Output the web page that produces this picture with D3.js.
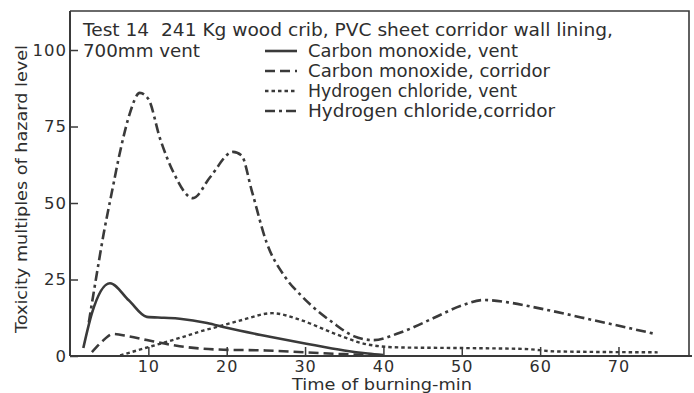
<!DOCTYPE html>
<html>
<head>
<meta charset="utf-8">
<script src="https://cdn.jsdelivr.net/npm/d3@7"></script>
<style>
  html, body { margin: 0; padding: 0; background: #fff; }
  svg { display: block; }
  text { font-family: "DejaVu Sans", sans-serif; fill: #2e2e2e; white-space: pre; }
</style>
</head>
<body>
<svg id="chart" width="694" height="393"></svg>
<script>
// Test 14 toxicity readings: [time of burning (min), multiples of hazard level]
const coVent = [[1.7,2.6],[2.8,14],[5.1,23.8],[7.5,18.2],[9.8,12.8],[12,12.5],[14,12.2],[17.5,10.8],[20,9.2],[25.5,6.3],[30,4.1],[35,1.8],[38,0.8],[40,0.3]];
const coCorridor = [[2.8,1.3],[4,4.5],[5.5,7.2],[7.5,6.4],[9.8,5.2],[14,3.2],[19,2.1],[25,1.8],[30,1.2],[35,0.6],[40,0.2]];
const hclVent = [[6.4,0.2],[10,2.9],[14,5.9],[17,8.3],[19.2,9.8],[22,11.8],[25.8,14],[29.4,11.8],[33.6,7.5],[37.9,3.8],[42,2.8],[50,2.6],[58,2.3],[62,1.5],[75,1.2]];
const hclCorridor = [[2.4,11],[3.3,25],[4.3,40],[5.3,53],[6.5,68],[7.6,79],[8.9,86],[10,84],[11.5,71],[13.2,60],[15.7,51.6],[17.9,58.5],[20.8,66.7],[21.9,65.5],[23.2,54],[25.1,37],[27.4,26],[29.6,19.5],[33.6,10.8],[36.2,6.5],[38.7,5.2],[42,7.5],[46.4,12.4],[50,16.5],[52.8,18.3],[56,17.5],[59.1,16],[67.7,11.2],[74.7,7.2]];

const xTicks = [10, 20, 30, 40, 50, 60, 70];
const yTicks = [0, 25, 50, 75, 100];

const titleLines = ["Test 14  241 Kg wood crib, PVC sheet corridor wall lining,", "700mm vent"];
const seriesNames = ["Carbon monoxide, vent", "Carbon monoxide, corridor", "Hydrogen chloride, vent", "Hydrogen chloride,corridor"];
const xTitle = "Time of burning-min";
const yTitle = "Toxicity multiples of hazard level";

// layout
const W = 694, H = 393;
const m = { left: 70, top: 11, right: 5, bottom: 37 };
const pw = W - m.left - m.right, ph = H - m.top - m.bottom;
const ink = "#3a3a3a";

const svg = d3.select("#chart");
const g = svg.append("g").attr("transform", `translate(${m.left},${m.top})`);

const x = d3.scaleLinear().domain([0, 79]).range([0, pw]);
const y = d3.scaleLinear().domain([0, 112.75]).range([ph, 0]);

// frame: top and right border
g.append("path")
  .attr("d", `M0,0H${pw}V${ph}`)
  .attr("fill", "none").attr("stroke", ink).attr("stroke-width", 1.6);

// x axis with inward ticks
const xAxis = g.append("g").attr("transform", `translate(0,${ph})`)
  .call(d3.axisBottom(x).tickValues(xTicks).tickSize(-9).tickPadding(5).tickSizeOuter(0));
xAxis.select(".domain").attr("stroke", ink).attr("stroke-width", 2).attr("d", `M0,0H${pw + 3}`);
xAxis.selectAll(".tick line").attr("stroke", ink).attr("stroke-width", 1.5);
xAxis.selectAll(".tick text").attr("font-size", 16).attr("fill", "#2e2e2e")
  .attr("font-family", "DejaVu Sans").attr("letter-spacing", 1);

// y axis with inward ticks
const yAxis = g.append("g")
  .call(d3.axisLeft(y).tickValues(yTicks).tickSize(-8).tickPadding(3).tickSizeOuter(0));
yAxis.select(".domain").attr("stroke", ink).attr("stroke-width", 2).attr("d", `M0,0V${ph}`);
yAxis.selectAll(".tick line").attr("stroke", ink).attr("stroke-width", 1.5);
yAxis.selectAll(".tick text").attr("font-size", 16.5).attr("fill", "#2e2e2e")
  .attr("font-family", "DejaVu Sans").attr("letter-spacing", 1).attr("x", -3);

// curves
const line = d3.line().x(d => x(d[0])).y(d => y(d[1])).curve(d3.curveMonotoneX);
const series = [
  { data: coVent, dash: null, width: 2.6 },
  { data: coCorridor, dash: "10,5", width: 2.6 },
  { data: hclVent, dash: "3.5,3", width: 2.4 },
  { data: hclCorridor, dash: "10,4,3,4", width: 2.6 }
];
series.forEach(s => {
  g.append("path").datum(s.data)
    .attr("d", line)
    .attr("fill", "none").attr("stroke", ink)
    .attr("stroke-width", s.width)
    .attr("stroke-dasharray", s.dash);
});

// title lines
const titleWidths = [530, 117];
titleLines.forEach((t, i) => {
  svg.append("text").attr("x", 83).attr("y", 36 + i * 21)
    .attr("font-size", 17).attr("textLength", titleWidths[i]).attr("lengthAdjust", "spacingAndGlyphs")
    .text(t);
});

// legend
const legendWidths = [210, 242, 209, 247];
const legendBase = [57, 77, 97, 117];
series.forEach((s, i) => {
  svg.append("line").attr("x1", 265).attr("x2", 297)
    .attr("y1", legendBase[i] - 6).attr("y2", legendBase[i] - 6)
    .attr("stroke", ink).attr("stroke-width", s.width)
    .attr("stroke-dasharray", s.dash);
  svg.append("text").attr("x", 308).attr("y", legendBase[i])
    .attr("font-size", 17).attr("textLength", legendWidths[i]).attr("lengthAdjust", "spacingAndGlyphs")
    .text(seriesNames[i]);
});

// axis titles
svg.append("text").attr("x", 292).attr("y", 390)
  .attr("font-size", 16.5).attr("textLength", 180).attr("lengthAdjust", "spacingAndGlyphs")
  .text(xTitle);
svg.append("text").attr("transform", "translate(27,333) rotate(-90)")
  .attr("font-size", 16).attr("textLength", 288).attr("lengthAdjust", "spacingAndGlyphs")
  .text(yTitle);
</script>
</body>
</html>
